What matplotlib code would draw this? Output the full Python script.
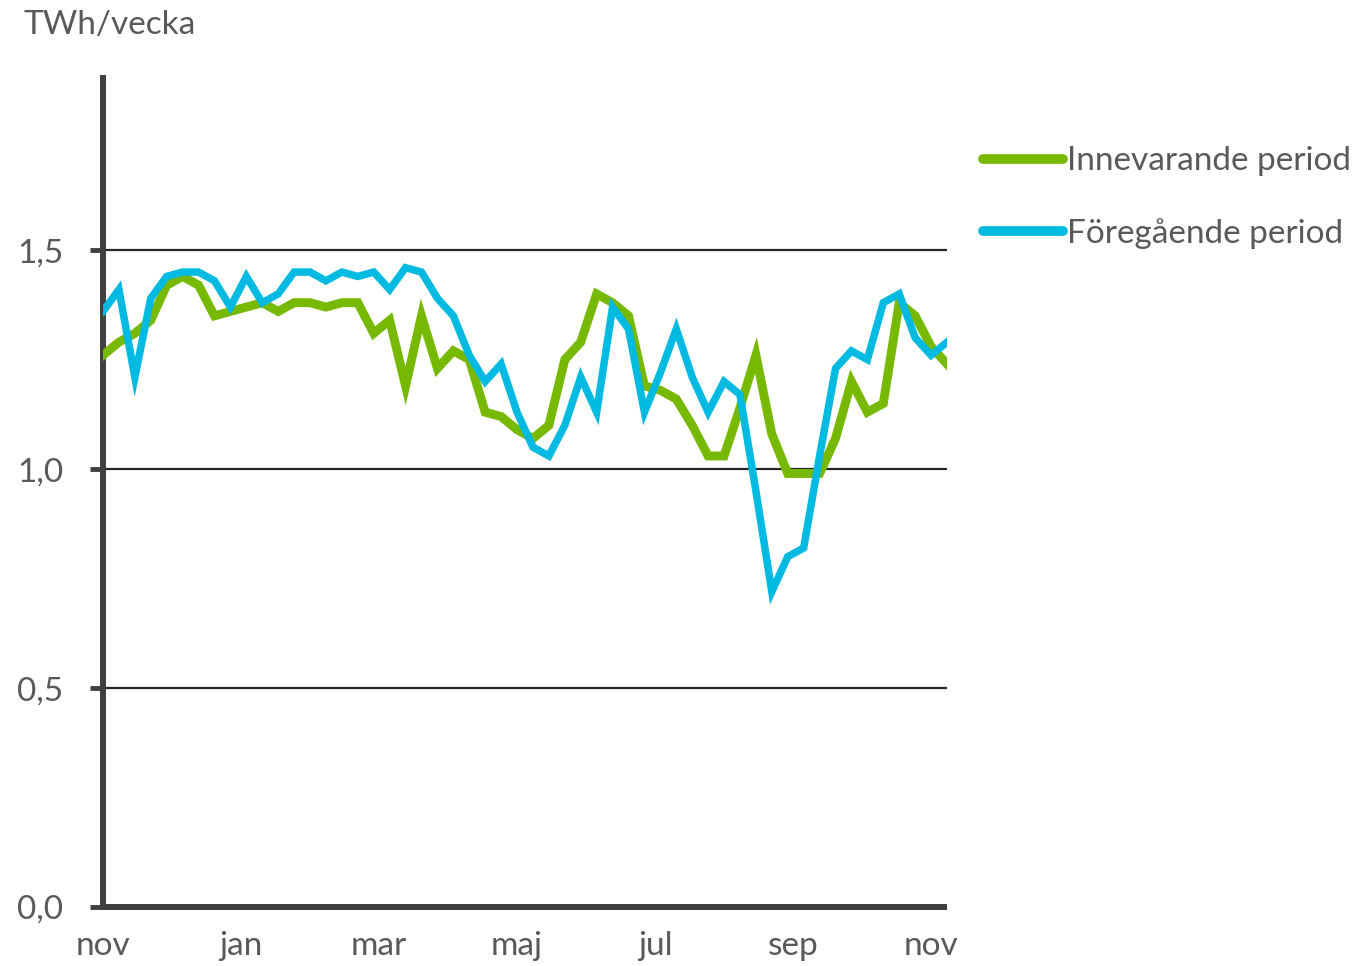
import numpy as np
import matplotlib.pyplot as plt

# weekly values, TWh/vecka
innevarande = [1.26, 1.29, 1.31, 1.34, 1.42, 1.44, 1.42, 1.35, 1.36, 1.37,
               1.38, 1.36, 1.38, 1.38, 1.37, 1.38, 1.38, 1.31, 1.34, 1.19,
               1.35, 1.23, 1.27, 1.25, 1.13, 1.12, 1.09, 1.07, 1.10, 1.25,
               1.29, 1.40, 1.38, 1.35, 1.19, 1.18, 1.16, 1.10, 1.03, 1.03,
               1.14, 1.26, 1.08, 0.99, 0.99, 0.99, 1.07, 1.20, 1.13, 1.15,
               1.38, 1.35, 1.28, 1.24]
foregaende = [1.36, 1.41, 1.21, 1.39, 1.44, 1.45, 1.45, 1.43, 1.37, 1.44,
              1.38, 1.40, 1.45, 1.45, 1.43, 1.45, 1.44, 1.45, 1.41, 1.46,
              1.45, 1.39, 1.35, 1.26, 1.20, 1.24, 1.13, 1.05, 1.03, 1.10,
              1.21, 1.13, 1.37, 1.32, 1.13, 1.22, 1.32, 1.21, 1.13, 1.20,
              1.17, 0.95, 0.72, 0.80, 0.82, 1.03, 1.23, 1.27, 1.25, 1.38,
              1.40, 1.30, 1.26, 1.29]
months = ["nov", "jan", "mar", "maj", "jul", "sep", "nov"]
yticks = [0.0, 0.5, 1.0, 1.5]

GREEN = "#77B900"
BLUE = "#00BAE2"
TEXT = "#595959"
DARK = "#404040"
FS = 24

plt.rcParams['font.family'] = ['Lato', 'DejaVu Sans']

fig = plt.figure(figsize=(13.58, 9.66), dpi=100)
ax = fig.add_axes([103 / 1358, 1 - 907 / 966, (947 - 103) / 1358, (907 - 75) / 966])

weeks = np.arange(len(innevarande))
ax.plot(weeks, innevarande, color=GREEN, lw=6.4, solid_joinstyle='miter', label="Innevarande period", zorder=3)
ax.plot(weeks, foregaende, color=BLUE, lw=5.4, solid_joinstyle='miter', label="Föregående period", zorder=4)

ax.set_xlim(0, len(innevarande) - 1)
ax.set_ylim(0, 1.9)

# horizontal gridlines
for v in yticks[1:]:
    ax.axhline(v, color="#262626", lw=1.6, zorder=1)

ax.set_yticks(yticks)
ax.set_yticklabels([f"{v:.1f}".replace(".", ",") for v in yticks])
step = 52 / (len(months) - 1)
ax.set_xticks(np.arange(len(months)) * step)
ax.set_xticklabels(months)

ax.tick_params(axis='y', direction='out', length=9.5, width=3.5, color=DARK,
               labelsize=FS, labelcolor=TEXT, pad=19)
ax.tick_params(axis='x', length=0, labelsize=FS, labelcolor=TEXT, pad=17)

for side in ["top", "right"]:
    ax.spines[side].set_visible(False)
for side in ["left", "bottom"]:
    ax.spines[side].set_linewidth(4.3)
    ax.spines[side].set_color(DARK)
    ax.spines[side].set_capstyle('butt')

fig.text(23 / 1358, 1 - 25 / 966, "TWh/vecka", fontsize=FS, color=TEXT, va="center", ha="left")

leg = fig.legend(loc="center left", bbox_to_anchor=(983 / 1358, 1 - 197.5 / 966), frameon=False,
                 fontsize=FS, labelcolor=TEXT, handlelength=2.4, handletextpad=0.12,
                 labelspacing=1.25, borderaxespad=0, borderpad=0)
for line in leg.get_lines():
    line.set_linewidth(7.0)
    line.set_solid_capstyle('round')

fig.savefig("out.png", dpi=100)
